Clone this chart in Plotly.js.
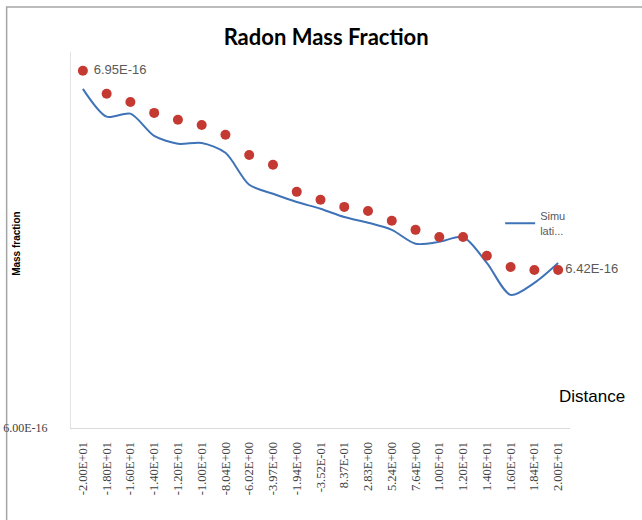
<!DOCTYPE html>
<html>
<head>
<meta charset="utf-8">
<script src="https://cdn.plot.ly/plotly-3.0.1.min.js"></script>
<style>
html,body{margin:0;padding:0;background:#fff;}
#chart{width:642px;height:520px;}
</style>
</head>
<body>
<div id="chart"></div>
<script>
const distance = ["-2.00E+01","-1.80E+01","-1.60E+01","-1.40E+01","-1.20E+01","-1.00E+01","-8.04E+00","-6.02E+00","-3.97E+00","-1.94E+00","-3.52E-01","8.37E-01","2.83E+00","5.24E+00","7.64E+00","1.00E+01","1.20E+01","1.40E+01","1.60E+01","1.84E+01","2.00E+01"];
const measured = [6.95e-16,6.889e-16,6.867e-16,6.838e-16,6.820e-16,6.806e-16,6.780e-16,6.726e-16,6.700e-16,6.628e-16,6.607e-16,6.588e-16,6.577e-16,6.551e-16,6.527e-16,6.508e-16,6.508e-16,6.458e-16,6.428e-16,6.420e-16,6.42e-16];
const simulation = [6.902e-16,6.828e-16,6.836e-16,6.777e-16,6.756e-16,6.758e-16,6.732e-16,6.647e-16,6.623e-16,6.601e-16,6.583e-16,6.561e-16,6.546e-16,6.527e-16,6.490e-16,6.495e-16,6.508e-16,6.439e-16,6.354e-16,6.386e-16,6.439e-16];
const pointLabels = [" 6.95E-16","","","","","","","","","","","","","","","","","","","","6.42E-16"];
const yTickVals = [6.0e-16];
const yTickText = ["6.00E-16"];

const traces = [
  {
    x: distance, y: simulation, type: "scatter", mode: "lines",
    name: "Simu<br>lati...",
    line: {color: "#3f73b8", width: 2, shape: "spline", smoothing: 0.8},
    hoverinfo: "x+y"
  },
  {
    x: distance, y: measured, type: "scatter", mode: "markers+text",
    name: "Measured", showlegend: false,
    marker: {color: "#c43a33", size: 10},
    text: pointLabels, textposition: "middle right",
    textfont: {family: "Liberation Sans Narrow, Liberation Sans, sans-serif", size: 13, color: "#595959"},
    cliponaxis: false
  }
];

const layout = {
  width: 642, height: 520,
  margin: {l: 71, r: 72, t: 52, b: 92},
  paper_bgcolor: "#ffffff", plot_bgcolor: "#ffffff",
  title: {text: "<b>Radon Mass Fraction</b>", x: 0.508, xanchor: "center", y: 0.929, yanchor: "middle",
          font: {family: "Lato, Open Sans, sans-serif", size: 22, color: "#000000"}},
  xaxis: {
    type: "category", range: [-0.5, 20.5],
    showline: true, linecolor: "#d9d9d9", linewidth: 1,
    showgrid: false, zeroline: false, ticks: "",
    tickangle: -90, ticklabelstandoff: 8,
    tickfont: {family: "Liberation Serif, serif", size: 12.5, color: "#404040"}
  },
  yaxis: {
    range: [6.0e-16, 7.0e-16],
    tickvals: yTickVals, ticktext: yTickText,
    showline: true, linecolor: "#e3e3e3", linewidth: 1,
    showgrid: false, zeroline: false, ticks: "",
    ticklabelstandoff: 20,
    tickfont: {family: "Liberation Serif, serif", size: 12, color: "#404040"}
  },
  showlegend: true,
  legend: {x: 0.86, y: 0.6, xanchor: "left", yanchor: "top", bgcolor: "rgba(0,0,0,0)",
           font: {family: "Liberation Sans Narrow, Liberation Sans, sans-serif", size: 11, color: "#595959"},
           itemwidth: 30, tracegroupgap: 0},
  annotations: [
    {text: "Distance", xref: "paper", yref: "paper", x: 1.044, y: 0.083, xanchor: "center", yanchor: "middle",
     showarrow: false, font: {family: "Liberation Sans, Arial, sans-serif", size: 17, color: "#000000"}},
    {text: "<b>Mass fraction</b>", xref: "paper", yref: "paper", x: -0.108, y: 0.49, xanchor: "center", yanchor: "middle",
     textangle: -90, showarrow: false, font: {family: "Liberation Sans, Arial, sans-serif", size: 10, color: "#000000"}}
  ],
  shapes: [
    {type: "rect", xref: "paper", yref: "paper", x0: -0.129, x1: 1.3, y0: -0.4, y1: 1.12,
     line: {color: "#a6a6a6", width: 1.5}, fillcolor: "rgba(0,0,0,0)", layer: "below"}
  ]
};

Plotly.newPlot("chart", traces, layout, {displayModeBar: false, staticPlot: true});
</script>
</body>
</html>
